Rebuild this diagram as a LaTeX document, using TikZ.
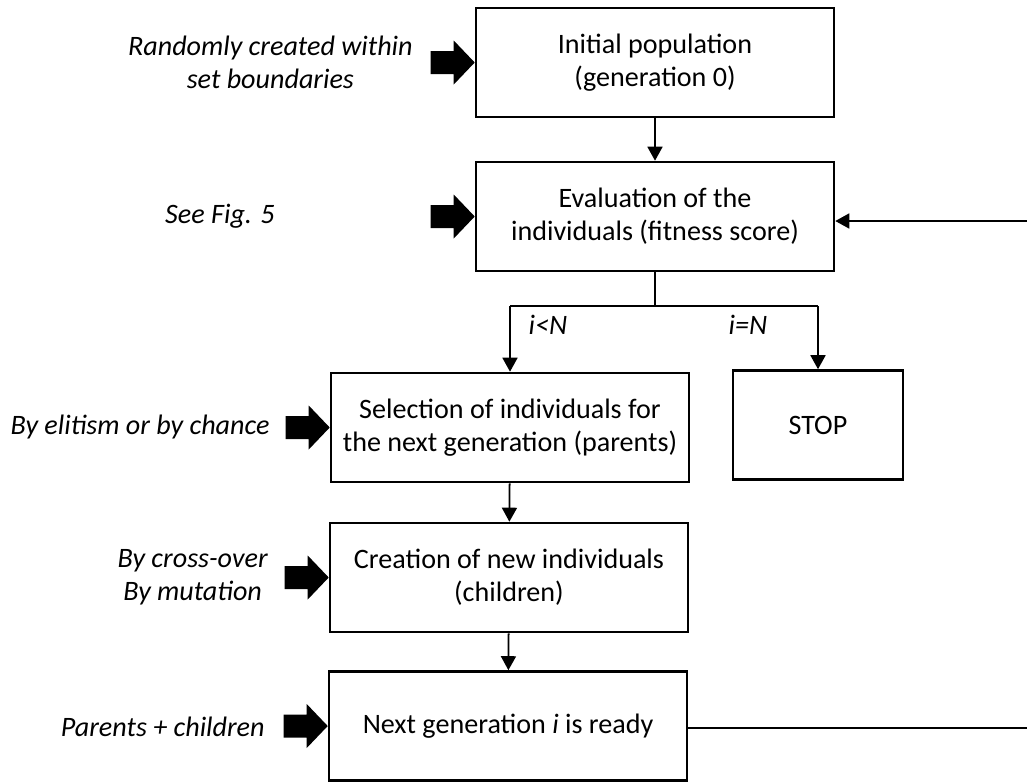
\documentclass[tikz,border=0pt]{standalone}
\usepackage{fontspec}
\setmainfont{Carlito}
\usetikzlibrary{arrows.meta,positioning}
\newcommand{\fatarrow}[1]{\fill #1 -- ++(-21,-22) -- ++(0,10.5) -- ++(-23,0) -- ++(0,23) -- ++(23,0) -- ++(0,10.5) -- cycle;}

\begin{document}
\begin{tikzpicture}[x=0.02cm,y=-0.02cm,>={Triangle[width=0.3cm,length=0.28cm]},
  every node/.style={font=\fontsize{16}{18.8}\selectfont,inner sep=0pt},
  stepbox/.style={draw,line width=1.5pt,align=center,minimum height=2.18cm},
  cond/.style={font=\fontsize{16}{18.8}\selectfont\itshape,align=center},
  link/.style={line width=1pt}]
\useasboundingbox (0,0) rectangle (1027,782);
\node[stepbox,minimum width=7.16cm] (init) at (655,62.5) {Initial population\\(generation 0)};
\node[stepbox,minimum width=7.16cm] (eval) at (655,216.5) {Evaluation of the\\individuals (fitness score)};
\node[stepbox,minimum width=7.16cm] (sel) at (510,427.5) {Selection of individuals for\\the next generation (parents)};
\node[stepbox,minimum width=3.4cm] (stop) at (818,425) {STOP};
\node[stepbox,minimum width=7.16cm] (cre) at (509,577.5) {Creation of new individuals\\(children)};
\node[stepbox,minimum width=7.16cm] (next) at (508,726) {Next generation \textit{i} is ready};
% conditions at the split
\coordinate (split) at (655,306);
\node[cond] (lt) at (548,325) {i<N};
\node[cond] (eq) at (748,325) {i=N};
% left notes
\node[cond,anchor=east] (n1) at (413,62) {Randomly created within\\set boundaries};
\node[cond] (n2) at (220,216) {See Fig. 5};
\node[cond,anchor=east] (n3) at (270,427) {By elitism or by chance};
\node[cond,anchor=east] (n4) at (268,577) {By cross-over\\By mutation};
\node[cond,anchor=east] (n5) at (265,727) {Parents + children};
\foreach \b in {init,eval,sel,cre,next}{\fatarrow{(\b.west)}}
% connectors
\draw[link,->] (init) -- (eval);
\draw[line width=0.6pt] (eval.south) -- (split);
\draw[line width=0.6pt] (sel.north |- split) -- (stop.north |- split);
\draw[link,->] (sel.north |- split) -- (sel.north);
\draw[link,->] (stop.north |- split) -- (stop.north);
\draw[link,->] (sel) -- (cre);
\draw[link,->] (cre) -- (next);
\coordinate (back) at (1027,221);
\coordinate (out) at (1027,728);
\draw[link,->] (back) -- (back -| eval.east);
\draw[link] (next.east |- out) -- (out);
\end{tikzpicture}
\end{document}
